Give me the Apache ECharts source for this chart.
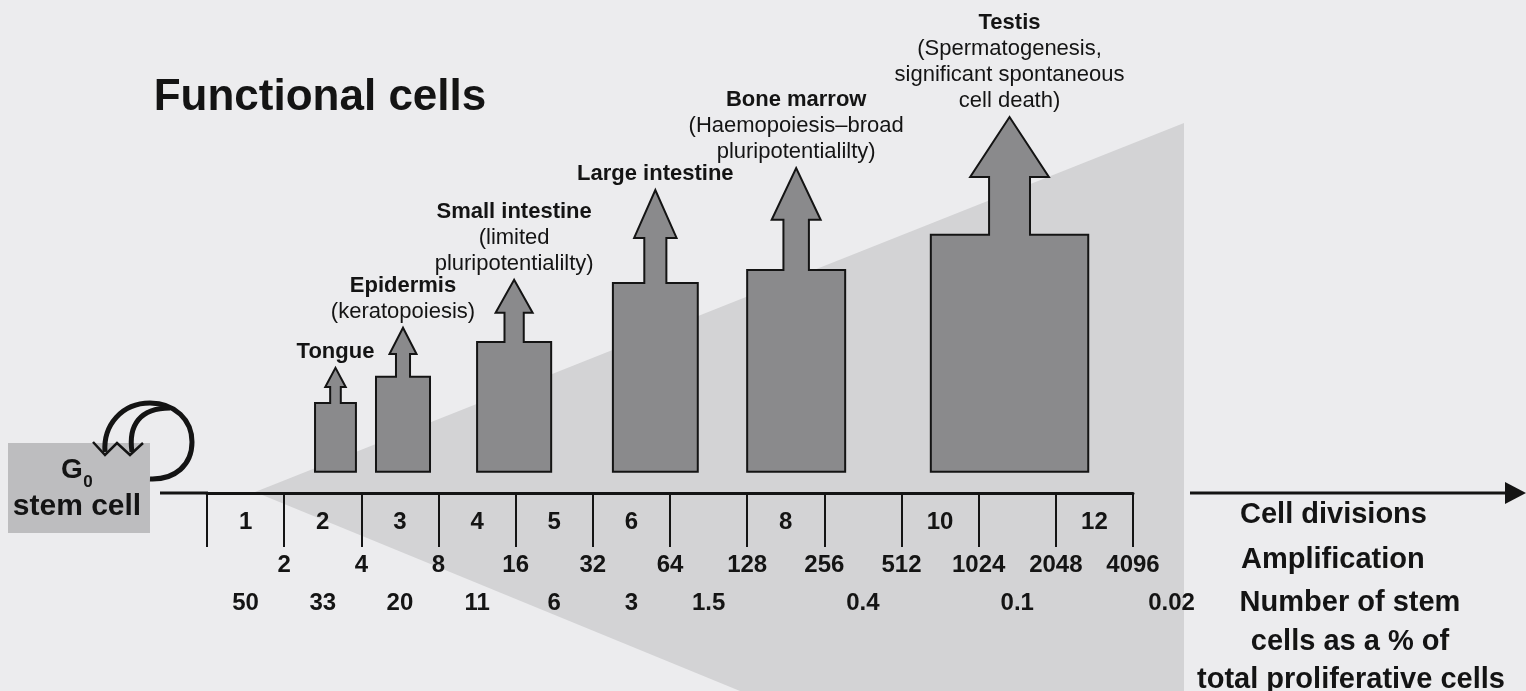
<!DOCTYPE html>
<html><head><meta charset="utf-8">
<script src="https://cdn.jsdelivr.net/npm/echarts@6/dist/echarts.min.js"></script>
<style>html,body{margin:0;padding:0;background:#ececee;}#chart{width:1526px;height:691px;}</style>
</head><body><div id="chart"></div>
<script>
// ---- data ----
const amplification = ['2','4','8','16','32','64','128','256','512','1024','2048','4096'];
const divisionLabels = [1, 2, 3, 4, 5, 6, 8, 10, 12];
const stemPercentDivision = [1, 2, 3, 4, 5, 6, 7, 9, 11, 13];
const stemPercent = ['50', '33', '20', '11', '6', '3', '1.5', '0.4', '0.1', '0.02'];
const tissues = ['Tongue', 'Epidermis', 'Small intestine', 'Large intestine', 'Bone marrow', 'Testis'];
const tissueNotes = [[], ['(keratopoiesis)'], ['(limited', 'pluripotentialilty)'], [], ['(Haemopoiesis\u2013broad', 'pluripotentialilty)'], ['(Spermatogenesis,', 'significant spontaneous', 'cell death)']];
const spanStart = [1.40, 2.19, 3.50, 5.26, 7.00, 9.38];
const spanEnd = [1.93, 2.89, 4.46, 6.36, 8.27, 11.42];
const bodyHeight = [19.4, 26.8, 36.6, 53.2, 56.9, 66.8];
const headBase = [23.9, 33.2, 44.8, 65.9, 71.0, 83.1];
const arrowTip = [29.3, 40.6, 54.1, 79.4, 85.6, 100];
const rightLabels = ['Cell divisions', 'Amplification'];
const stemLabelLines = ['Number of stem', 'cells as a % of', 'total proliferative cells'];

// ---- layout ----
const FONT = '"Liberation Sans", Arial, Helvetica, sans-serif';
const Y_MIN = -6, Y_MAX = 100;
const INK = '#141414';

const chart = echarts.init(document.getElementById('chart'));

function axisPixelY(api) { return api.coord([0, Y_MIN])[1]; }

function curve(x1, y1, c1x, c1y, c2x, c2y, x2, y2) {
  return { type: 'bezierCurve', shape: { x1: x1, y1: y1, cpx1: c1x, cpy1: c1y, cpx2: c2x, cpy2: c2y, x2: x2, y2: y2 }, style: { fill: null, stroke: INK, lineWidth: 5 } };
}
function label(text, x, y, font, align) {
  return { type: 'text', x: x, y: y, style: { text: text, font: font, fill: INK, align: align || 'center', verticalAlign: 'middle' } };
}

const option = {
  backgroundColor: '#ececee',
  animation: false,
  grid: { left: 207, right: 393, top: 117, bottom: 198, outerBoundsMode: 'none' },
  xAxis: {
    type: 'value', min: 0, max: 12, interval: 1,
    axisLine: { show: true, onZero: false, lineStyle: { color: INK, width: 3 } },
    axisTick: { show: true, length: 54, lineStyle: { color: INK, width: 2 } },
    axisLabel: {
      show: true, margin: 60, fontSize: 24, fontWeight: 'bold', color: INK, fontFamily: FONT,
      formatter: function (v) { return v >= 1 ? amplification[v - 1] : ''; }
    },
    splitLine: { show: false }
  },
  yAxis: { type: 'value', min: Y_MIN, max: Y_MAX, show: false, splitLine: { show: false } },
  graphic: [
    { type: 'polygon', z: -10, shape: { points: [[255, 492], [1184, 123], [1184, 691], [740, 691]] }, style: { fill: '#d3d3d5' } },
    label('Functional cells', 320, 98, 'bold 44px ' + FONT),
    { type: 'rect', shape: { x: 8, y: 443, width: 142, height: 90 }, style: { fill: '#bdbdbf' } },
    label('G', 72, 470, 'bold 28px ' + FONT),
    label('0', 88, 482, 'bold 17px ' + FONT),
    label('stem cell', 77, 507, 'bold 30px ' + FONT),
    curve(105, 452, 103, 425, 122, 403, 150, 403),
    curve(150, 403, 175, 403, 192, 420, 192, 442),
    curve(192, 442, 192, 465, 175, 480, 150, 479),
    curve(132, 452, 128, 425, 140, 408, 170, 408),
    { type: 'polyline', shape: { points: [[93, 442], [105, 455], [117, 443], [130, 455], [143, 443]] }, style: { stroke: INK, lineWidth: 2.5, fill: null } },
    { type: 'line', shape: { x1: 160, y1: 493, x2: 208, y2: 493 }, style: { stroke: INK, lineWidth: 3 } },
    { type: 'line', shape: { x1: 1190, y1: 493, x2: 1508, y2: 493 }, style: { stroke: INK, lineWidth: 3 } },
    { type: 'polygon', shape: { points: [[1526, 493], [1505, 482], [1505, 504]] }, style: { fill: INK } },
    label(rightLabels[0], 1240, 515, 'bold 29px ' + FONT, 'left'),
    label(rightLabels[1], 1241, 560, 'bold 29px ' + FONT, 'left'),
    label(stemLabelLines[0], 1350, 603, 'bold 29px ' + FONT),
    label(stemLabelLines[1], 1350, 642, 'bold 29px ' + FONT),
    label(stemLabelLines[2], 1351, 680, 'bold 29px ' + FONT)
  ],
  series: [
    {
      type: 'custom', name: 'tissues', clip: false, z: 3,
      data: tissues.map(function (t, i) { return [spanStart[i], spanEnd[i], bodyHeight[i], headBase[i], arrowTip[i], i]; }),
      encode: { x: [0, 1], y: [2, 3, 4] },
      renderItem: function (params, api) {
        const i = api.value(5);
        const left = api.coord([api.value(0), 0])[0];
        const right = api.coord([api.value(1), 0])[0];
        const base = api.coord([0, 0])[1];
        const top = api.coord([0, api.value(2)])[1];
        const hb = api.coord([0, api.value(3)])[1];
        const tip = api.coord([0, api.value(4)])[1];
        const cx = (left + right) / 2, w = right - left;
        const sw = w * 0.13, hw = w * 0.25;
        const pts = [[left, base], [left, top], [cx - sw, top], [cx - sw, hb], [cx - hw, hb], [cx, tip],
                     [cx + hw, hb], [cx + sw, hb], [cx + sw, top], [right, top], [right, base]];
        let txt = '{b|' + tissues[i] + '}';
        tissueNotes[i].forEach(function (n) { txt += '\n{n|' + n + '}'; });
        return {
          type: 'group',
          children: [
            { type: 'polygon', shape: { points: pts }, style: { fill: '#8a8a8c', stroke: INK, lineWidth: 2 } },
            { type: 'text', x: cx, y: tip - 3, style: {
                text: txt, align: 'center', verticalAlign: 'bottom',
                rich: {
                  b: { fontSize: 22, fontWeight: 'bold', fontFamily: FONT, fill: INK, lineHeight: 26, align: 'center' },
                  n: { fontSize: 22, fontFamily: FONT, fill: INK, lineHeight: 26, align: 'center' }
                }
              } }
          ]
        };
      }
    },
    {
      type: 'custom', name: 'divisions', clip: false, z: 3,
      data: divisionLabels.map(function (d) { return [d - 0.5, d]; }),
      encode: { x: 0 },
      renderItem: function (params, api) {
        const p = api.coord([api.value(0), 0]);
        return { type: 'text', x: p[0], y: axisPixelY(api) + 29, style: { text: String(api.value(1)), font: 'bold 24px ' + FONT, fill: INK, align: 'center', verticalAlign: 'middle' } };
      }
    },
    {
      type: 'custom', name: 'stemPercent', clip: false, z: 3,
      data: stemPercentDivision.map(function (d, i) { return [d - 0.5, i]; }),
      encode: { x: 0 },
      renderItem: function (params, api) {
        const p = api.coord([api.value(0), 0]);
        return { type: 'text', x: p[0], y: axisPixelY(api) + 110, style: { text: stemPercent[api.value(1)], font: 'bold 24px ' + FONT, fill: INK, align: 'center', verticalAlign: 'middle' } };
      }
    }
  ]
};
chart.setOption(option);
</script>
</body></html>
